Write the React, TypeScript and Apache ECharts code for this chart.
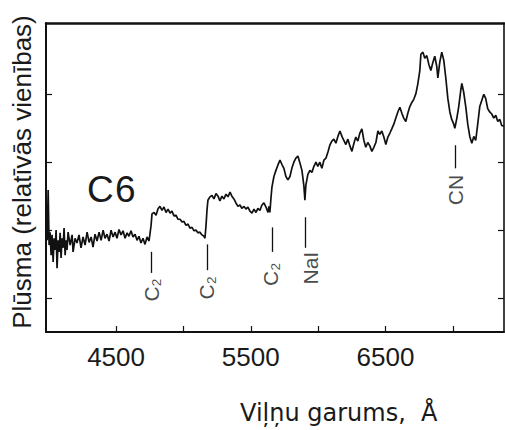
import React, { useEffect, useRef } from "react";
import * as echarts from "echarts";

// Spectrum of the carbon star (class C6): wavelength (Å) and relative flux
const wavelength = [
  3989, 3996, 4003, 4010, 4018, 4025, 4033, 4040, 4048, 4055, 4062, 4070, 4077, 4085, 4092, 4099, 4107, 4114, 4122, 4129,
  4136, 4144, 4159, 4174, 4181, 4196, 4210, 4225, 4240, 4255, 4270, 4285, 4300, 4315, 4329, 4344, 4359, 4374, 4389, 4404,
  4418, 4433, 4448, 4463, 4478, 4493, 4507, 4522, 4537, 4552, 4567, 4582, 4596, 4611, 4626, 4641, 4656, 4670, 4685, 4700,
  4715, 4730, 4745,
  4760, 4767, 4782, 4797, 4811, 4826, 4841, 4856, 4871, 4886, 4901, 4915, 4930, 4945, 4960, 4975, 4990, 5004, 5019, 5034,
  5049, 5064, 5079, 5093, 5108, 5123, 5138, 5153, 5160,
  5168, 5175, 5182, 5197, 5212, 5227, 5242, 5257, 5271, 5286, 5301, 5316, 5331, 5346, 5360, 5375, 5390, 5405, 5420, 5434,
  5450, 5464, 5479, 5494, 5509, 5524, 5539, 5553, 5568, 5583, 5598, 5613, 5628, 5635, 5642,
  5650, 5657, 5672, 5687, 5702, 5717, 5731, 5746, 5761, 5776, 5791, 5805, 5820, 5835, 5850, 5865, 5880, 5894, 5902, 5909,
  5924, 5939, 5954, 5969, 5984, 5998, 6013, 6028, 6043, 6058, 6073, 6087, 6102, 6117, 6132, 6147, 6162, 6177, 6191, 6206,
  6221, 6236, 6251, 6266, 6280, 6295, 6310, 6325, 6340, 6354, 6369, 6384, 6399, 6414, 6429, 6444, 6458, 6473, 6488, 6503,
  6518, 6533, 6547, 6562, 6577, 6592, 6607, 6622, 6636, 6651, 6666, 6681, 6696, 6711, 6726, 6740, 6755, 6763, 6778, 6792,
  6807, 6822, 6837, 6852, 6866, 6881, 6889, 6903, 6918, 6933, 6948, 6963, 6978, 6992, 7007, 7015, 7030, 7044, 7059, 7067,
  7081, 7096, 7111, 7126, 7141, 7156, 7170, 7185, 7200, 7215, 7230, 7244, 7259, 7274, 7289, 7304, 7319, 7334, 7349, 7363,
  7378,
];

const flux = [
  1.35, 2.09, 1.28, 1.47, 1.13, 1.43, 1.03, 1.38, 1.21, 1.5, 0.94, 1.35, 1.18, 1.46, 1.09, 1.38, 1.24, 1.53, 1.13, 1.35,
  1.21, 1.47, 1.28, 1.43, 1.18, 1.38, 1.31, 1.43, 1.24, 1.4, 1.28, 1.47, 1.32, 1.4, 1.25, 1.44, 1.34, 1.47, 1.35, 1.5,
  1.38, 1.44, 1.34, 1.5, 1.4, 1.47, 1.38, 1.51, 1.43, 1.49, 1.38, 1.46, 1.41, 1.49, 1.4, 1.44, 1.35, 1.41, 1.31, 1.38,
  1.29, 1.4, 1.34,
  1.57, 1.74, 1.76, 1.72, 1.81, 1.85, 1.79, 1.84, 1.76, 1.81, 1.75, 1.78, 1.71, 1.72, 1.66, 1.66, 1.62, 1.63, 1.57, 1.59,
  1.53, 1.54, 1.49, 1.5, 1.46, 1.47, 1.43, 1.41, 1.38,
  1.57, 1.79, 1.94, 1.99, 2.01, 1.96, 2.04, 2.0, 1.93, 2.0, 1.96, 2.03, 1.99, 2.06, 2.0, 1.96, 1.9, 1.85, 1.87, 1.82,
  1.85, 1.81, 1.84, 1.78, 1.75, 1.81, 1.76, 1.82, 1.79, 1.87, 1.9, 1.84, 1.76, 1.85, 1.76,
  1.97, 2.13, 2.29, 2.38, 2.46, 2.53, 2.47, 2.41, 2.29, 2.24, 2.29, 2.41, 2.5, 2.56, 2.59, 2.49, 2.38, 2.16, 1.94, 2.16,
  2.32, 2.38, 2.35, 2.44, 2.5, 2.44, 2.5, 2.41, 2.53, 2.56, 2.65, 2.75, 2.81, 2.84, 2.78, 2.88, 2.96, 2.88, 2.82, 2.76,
  2.84, 2.74, 2.66, 2.78, 2.87, 2.81, 2.93, 2.99, 2.82, 2.72, 2.79, 2.74, 2.66, 2.72, 2.79, 2.96, 2.91, 2.96, 2.87, 2.76,
  2.87, 2.93, 2.99, 3.06, 3.15, 3.24, 3.31, 3.22, 3.15, 3.1, 3.22, 3.32, 3.38, 3.43, 3.51, 3.65, 3.85, 4.09, 4.12, 4.03,
  4.07, 3.94, 3.85, 3.97, 4.06, 3.91, 3.74, 3.97, 4.12, 4.0, 3.74, 3.44, 3.24, 3.13, 3.06, 3.0, 3.15, 3.32, 3.56, 3.66,
  3.53, 3.32, 3.06, 2.88, 2.78, 2.88, 2.82, 3.06, 3.32, 3.41, 3.5, 3.44, 3.29, 3.24, 3.21, 3.15, 3.19, 3.1, 3.13, 3.04,
  3.03,
];

// Axis ticks and labels
const xTicks = [4500, 5000, 5500, 6000, 6500, 7000];
const xTickLabels = [4500, 5500, 6500];
const yTicks = [0.5, 1.5, 2.5, 3.5];

// Feature identifications
const featureNames = ["C₂", "C₂", "C₂", "NaI", "CN"];
const featureWl = [4760, 5175, 5657, 5905, 7015];
const featureLineTop = [1.18, 1.29, 1.54, 1.69, 2.75];
const featureLineBottom = [0.87, 0.91, 1.18, 1.24, 2.41];
const featureLabelWl = [4760, 5175, 5650, 5946, 7022];
const featureLabelFlux = [0.62, 0.65, 0.85, 0.94, 2.09];

const FONT = '"Liberation Sans", "DejaVu Sans", sans-serif';
const INK = "#111111";

export default function App() {
  const ref = useRef<HTMLDivElement>(null);

  useEffect(() => {
    if (!ref.current) return;
    const chart = echarts.init(ref.current, undefined, { renderer: "svg" });

    const spectrum = wavelength.map((w, i) => [w, flux[i]]);
    const lines = featureWl.map((w, i) => [
      { coord: [w, featureLineTop[i]] },
      { coord: [w, featureLineBottom[i]] },
    ]);
    const labels = featureNames.map((n, i) => ({
      name: n,
      value: [featureLabelWl[i], featureLabelFlux[i]],
    }));

    const xMin = 3980;
    const xMax = 7380;
    const yMin = 0;
    const yMax = 4.55;

    chart.setOption({
      animation: false,
      backgroundColor: "#ffffff",
      grid: { left: 46, right: 1, top: 23, bottom: 98 },
      xAxis: [
        {
          type: "value",
          min: xMin,
          max: xMax,
          axisLine: { show: true, onZero: false, lineStyle: { color: INK, width: 2 } },
          axisTick: { show: true, inside: true, length: 6, customValues: xTicks, lineStyle: { color: INK, width: 1.2 } },
          axisLabel: {
            show: true,
            customValues: xTickLabels,
            formatter: (v: number) => String(v),
            color: "#1a1a1a",
            fontSize: 26,
            fontFamily: FONT,
            margin: 12,
          },
          splitLine: { show: false },
        },
        {
          type: "value",
          position: "top",
          min: xMin,
          max: xMax,
          axisLine: { show: true, onZero: false, lineStyle: { color: INK, width: 2.5 } },
          axisTick: { show: false },
          axisLabel: { show: false },
          splitLine: { show: false },
        },
      ],
      yAxis: [
        {
          type: "value",
          min: yMin,
          max: yMax,
          axisLine: { show: true, onZero: false, lineStyle: { color: INK, width: 2 } },
          axisTick: { show: true, inside: true, length: 6, customValues: yTicks, lineStyle: { color: INK, width: 1.2 } },
          axisLabel: { show: false },
          splitLine: { show: false },
        },
        {
          type: "value",
          position: "right",
          min: yMin,
          max: yMax,
          axisLine: { show: true, onZero: false, lineStyle: { color: INK, width: 1.6 } },
          axisTick: { show: true, inside: true, length: 6, customValues: yTicks, lineStyle: { color: INK, width: 1.2 } },
          axisLabel: { show: false },
          splitLine: { show: false },
        },
      ],
      series: [
        {
          type: "line",
          data: spectrum,
          showSymbol: false,
          symbol: "none",
          lineStyle: { color: INK, width: 1.7 },
          markLine: {
            symbol: "none",
            silent: true,
            label: { show: false },
            lineStyle: { color: INK, width: 1.3, type: "solid" },
            data: lines,
          },
          z: 3,
        },
        {
          type: "scatter",
          data: labels,
          symbolSize: 1,
          itemStyle: { color: "rgba(0,0,0,0)" },
          label: {
            show: true,
            position: "inside",
            rotate: 90,
            formatter: "{b}",
            color: "#1a1a1a",
            fontSize: 21,
            fontFamily: FONT,
          },
          z: 4,
        },
      ],
      graphic: [
        {
          type: "text",
          x: 22,
          y: 172,
          rotation: Math.PI / 2,
          style: {
            text: "Plūsma (relatīvās vienības)",
            fontSize: 26,
            fontFamily: FONT,
            fill: "#1a1a1a",
            align: "center",
            verticalAlign: "middle",
          },
        },
        {
          type: "text",
          left: 240,
          top: 401,
          style: {
            text: "Viļņu garums,  Å",
            fontSize: 24,
            fontFamily: '"DejaVu Sans", sans-serif',
            fill: "#1a1a1a",
          },
        },
        {
          type: "text",
          left: 87,
          top: 171,
          style: { text: "C", fontSize: 37, fontFamily: FONT, fill: "#1a1a1a" },
        },
        {
          type: "text",
          left: 115,
          top: 171,
          style: { text: "6", fontSize: 37, fontFamily: FONT, fill: "#1a1a1a" },
        },
      ],
    });

    return () => chart.dispose();
  }, []);

  return (
    <div
      ref={ref}
      style={{ position: "fixed", left: 0, top: 0, width: 505, height: 430, background: "#fff" }}
    />
  );
}
